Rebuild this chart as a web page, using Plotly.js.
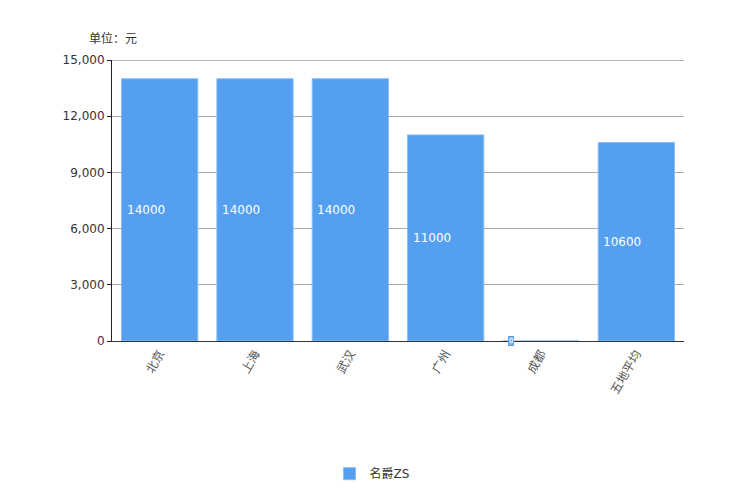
<!DOCTYPE html>
<html>
<head>
<meta charset="utf-8">
<script src="https://cdn.plot.ly/plotly-3.0.1.min.js"></script>
<style>html,body{margin:0;padding:0;background:#fff;}#chart{width:744px;height:496px;}</style>
</head>
<body>
<div id="chart"></div>
<script>
const categories = ['北京', '上海', '武汉', '广州', '成都', '五地平均'];
const values = [14000, 14000, 14000, 11000, 0, 10600];
const seriesName = '名爵ZS';
const unitLabel = '单位：元';
const yTicks = [0, 3000, 6000, 9000, 12000, 15000];

const barColor = '#559ff0';
const font = '"DejaVu Sans", "Noto Sans CJK SC", sans-serif';

const trace = {
  type: 'bar',
  x: categories,
  y: values,
  name: seriesName,
  marker: {color: barColor, line: {color: '#8bbcf3', width: 1}},
  hoverinfo: 'x+y'
};

const annotations = categories.map((c, i) => {
  if (values[i] === 0) {
    return {
      x: c, y: 0, xref: 'x', yref: 'y', text: String(values[i]),
      showarrow: false, xanchor: 'left', yanchor: 'middle', xshift: -33,
      font: {family: font, size: 7, color: '#ffffff'},
      bgcolor: '#7fb5f3', bordercolor: '#559ff0', borderwidth: 1, borderpad: 0
    };
  }
  return {
    x: c, y: values[i] / 2, xref: 'x', yref: 'y', text: String(values[i]),
    showarrow: false, xanchor: 'left', yanchor: 'middle', xshift: -35,
    font: {family: font, size: 12, color: '#ffffff'}
  };
});
annotations.push({
  xref: 'paper', yref: 'paper', x: -0.043, y: 1.075, xanchor: 'left', yanchor: 'middle',
  text: unitLabel, showarrow: false, font: {family: font, size: 12, color: '#333333'}
});

const layout = {
  width: 744, height: 496,
  margin: {l: 112, r: 60, t: 60, b: 155},
  paper_bgcolor: '#ffffff', plot_bgcolor: '#ffffff',
  font: {family: font, size: 12, color: '#333333'},
  bargap: 0.2,
  showlegend: true,
  legend: {orientation: 'h', xref: 'container', yref: 'container', x: 0.5, xanchor: 'center',
           y: 0.045, yanchor: 'middle',
           font: {family: font, size: 12, color: '#333333'}},
  xaxis: {
    type: 'category', tickangle: -60, showgrid: false, showline: true, automargin: false,
    linecolor: '#333333', linewidth: 1, ticks: '', zeroline: false,
    tickfont: {family: font, size: 12, color: '#555555'}
  },
  yaxis: {
    range: [0, 15000], tickvals: yTicks, tickformat: ',d', automargin: false,
    showgrid: true, gridcolor: '#aaaaaa', gridwidth: 1,
    showline: true, linecolor: '#222222', linewidth: 1,
    ticks: 'outside', ticklen: 4, tickcolor: '#222222',
    zeroline: false, fixedrange: true,
    tickfont: {family: font, size: 12, color: '#333333'}
  },
  shapes: [{type: 'line', xref: 'paper', yref: 'y', x0: 0, x1: 1, y0: 15000, y1: 15000,
            line: {color: '#999999', width: 1.5}}],
  annotations: annotations
};

Plotly.newPlot('chart', [trace], layout, {displayModeBar: false, staticPlot: true});
</script>
</body>
</html>
